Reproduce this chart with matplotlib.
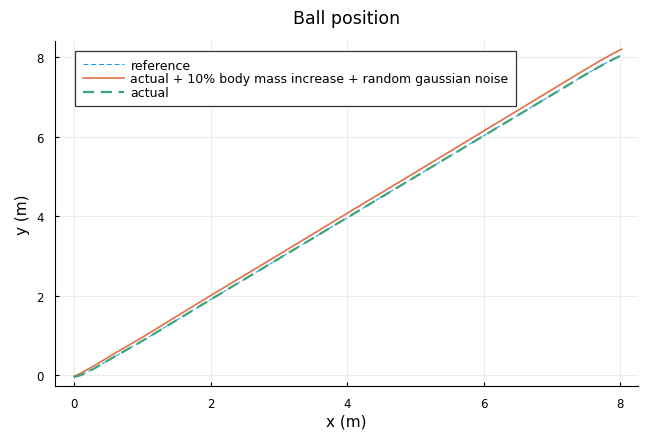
import matplotlib
matplotlib.use("Agg")
import matplotlib.pyplot as plt

# ball trajectory points
x_act = [0, 0.1, 0.3, 0.6, 1, 2, 3, 4, 5, 6, 7, 7.5, 7.8, 8.0]
y_act = [-0.05, 0.0, 0.17, 0.47, 0.86, 1.9, 2.93, 3.96, 4.99, 6.02, 7.05, 7.57, 7.86, 8.03]
x_ref = x_act
y_ref = y_act
x_noise = [0, 0.1, 0.3, 0.6, 1, 2, 3, 4, 5, 6, 7, 7.5, 7.8, 8.02]
y_noise = [-0.03, 0.05, 0.24, 0.55, 0.95, 2.0, 3.03, 4.07, 5.1, 6.14, 7.18, 7.7, 8.0, 8.2]

fig = plt.figure(figsize=(6.47, 4.35), dpi=100)
ax = fig.add_axes([0.085, 0.11, 0.901, 0.793])

ax.plot(x_ref, y_ref, color="#009AFA", ls=(0, (5, 3)), lw=0.7, label="reference")
ax.plot(x_noise, y_noise, color="#E36F47", lw=1.2,
        label="actual + 10% body mass increase + random gaussian noise")
ax.plot(x_act, y_act, color="#3EA47A", ls=(0, (5, 3)), lw=1.6, label="actual")

ax.set_xlim(-0.278, 8.26)
ax.set_ylim(-0.277, 8.40)
ax.set_xticks([0, 2, 4, 6, 8])
ax.set_yticks([0, 2, 4, 6, 8])
ax.grid(True, color="#e8e8e8", lw=0.6)
for s in ["top", "right"]:
    ax.spines[s].set_visible(False)
ax.tick_params(labelsize=8.5, direction="in", length=3, pad=8)

ax.set_title("Ball position", fontsize=12.5, pad=13)
ax.set_xlabel("x (m)", fontsize=11, labelpad=2)
ax.set_ylabel("y (m)", fontsize=11, labelpad=4.5)

leg = ax.legend(loc="upper left", fontsize=9, fancybox=False, framealpha=1,
                edgecolor="#333333", borderpad=0.6, labelspacing=0.05,
                handlelength=3.3, handletextpad=0.5, borderaxespad=0,
                bbox_to_anchor=(0.035, 0.971))
leg.get_frame().set_linewidth(0.9)

fig.savefig("out.png", dpi=100)
